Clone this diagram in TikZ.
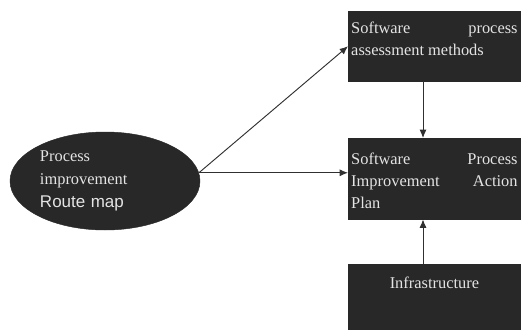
\documentclass[tikz,border=0pt]{standalone}
\usepackage{fontspec}
\setmainfont{Liberation Serif}
\setsansfont{Liberation Sans}
\usetikzlibrary{arrows.meta,shapes.geometric}
\definecolor{boxgray}{HTML}{282828}
\definecolor{txtgray}{HTML}{E4E4E4}
\definecolor{arrgray}{HTML}{303030}

\begin{document}
\begin{tikzpicture}[
    x=0.03cm, y=-0.03cm,
    darkbox/.style={draw=boxgray, fill=boxgray, text=txtgray, anchor=north west, inner xsep=0.09cm, inner ysep=0pt,
        text width=4.99cm, align=justify, font=\fontsize{14}{19}\selectfont},
    arr/.style={-{Latex[length=2.5mm,width=2.1mm]}, line width=0.8pt, arrgray}
]
    \useasboundingbox (0,0) rectangle (521,329);
    % --- Route map (left) ---
    \node[ellipse, draw=boxgray, fill=boxgray, text=txtgray, minimum width=5.7cm, minimum height=2.94cm,
        inner sep=-0.3cm, text width=3.9cm, align=left, font=\fontsize{14}{19.5}\selectfont] (rm) at (105,181)
        {Process\\improvement\\{\sffamily\fontsize{14.5}{19.5}\selectfont Route map}};

    % --- Boxes (right) ---
    \node[darkbox, text height=0.66cm, text depth=1.44cm] (sam) at (348,11)
        {\hyphenpenalty=10000 Software process\linebreak assessment methods};
    \node[darkbox, text height=0.78cm, text depth=1.65cm] (pia) at (348,138)
        {\hyphenpenalty=10000 Software Process\linebreak Improvement Action\linebreak Plan};
    \node[darkbox, align=center, text height=0.72cm, text depth=1.23cm] (inf) at (348,264) {Infrastructure};

    % --- Arrows ---
    \draw[arr] (rm.5) -- (sam.west);
    \draw[arr] (rm.5) -- (rm.5 -| pia.west);
    \draw[arr] ([xshift=2.25cm]sam.south west) -- ([xshift=2.25cm]pia.north west);
    \draw[arr] ([xshift=2.25cm]inf.north west) -- ([xshift=2.25cm]pia.south west);
\end{tikzpicture}
\end{document}
